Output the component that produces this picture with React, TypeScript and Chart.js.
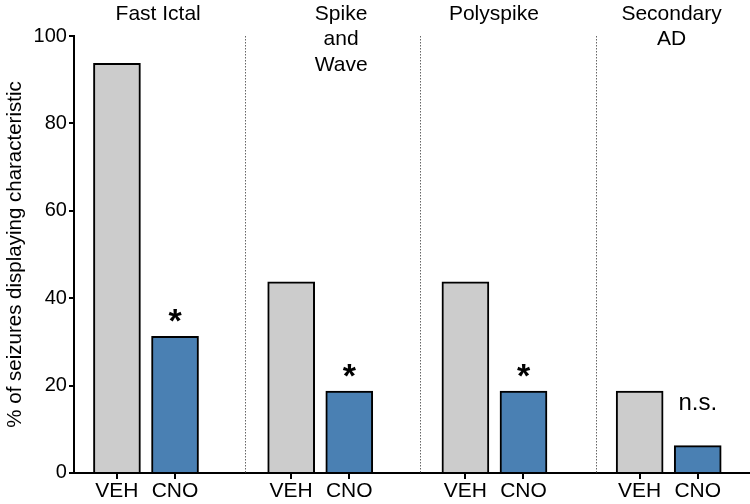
import React, { useEffect, useRef } from "react";
import { Chart, registerables } from "chart.js";

Chart.register(...registerables);

const groupTitles = [["Fast Ictal"], ["Spike", "and", "Wave"], ["Polyspike"], ["Secondary", "AD"]];
const conditions = ["VEH", "CNO"];
const vehValues = [93.75, 43.75, 43.75, 18.75];
const cnoValues = [31.25, 18.75, 18.75, 6.25];
const significance = ["*", "*", "*", "n.s."];
const yTicks = [0, 20, 40, 60, 80, 100];

const FONT = "'Liberation Sans', Arial, Helvetica, sans-serif";
// x positions of each group's VEH bar (slots; CNO is next slot)
const groupStart = [0, 3, 6, 9];
const titleOffsets = [0.71, 3.86, 6.49, 9.55];
const separators = [2.21, 5.22, 8.24];

const annotationPlugin = {
  id: "annotations",
  afterDraw(chart: any) {
    const { ctx, scales, chartArea } = chart;
    const xs = scales.x;
    const ys = scales.y;
    ctx.save();
    ctx.strokeStyle = "#666";
    ctx.lineWidth = 1;
    ctx.setLineDash([1.5, 1.5]);
    separators.forEach((s) => {
      const px = Math.round(xs.getPixelForValue(s)) + 0.5;
      ctx.beginPath();
      ctx.moveTo(px, chartArea.top);
      ctx.lineTo(px, ys.getPixelForValue(0));
      ctx.stroke();
    });
    ctx.setLineDash([]);
    ctx.fillStyle = "#000";
    ctx.font = `21px ${FONT}`;
    ctx.textAlign = "center";
    ctx.textBaseline = "alphabetic";
    groupTitles.forEach((lines, i) => {
      const px = xs.getPixelForValue(titleOffsets[i]);
      lines.forEach((line, j) => {
        ctx.fillText(line, px, 19.5 + j * 25.5);
      });
    });
    significance.forEach((s, i) => {
      const px = xs.getPixelForValue(groupStart[i] + 1);
      const top = ys.getPixelForValue(cnoValues[i]);
      if (s === "*") {
        ctx.font = `bold 34px ${FONT}`;
        ctx.fillText(s, px, top - 4);
      } else {
        ctx.font = `24px ${FONT}`;
        ctx.fillText(s, px, top - 36);
      }
    });
    ctx.restore();
  },
};

export default function App() {
  const ref = useRef<HTMLCanvasElement>(null);
  useEffect(() => {
    document.body.style.margin = "0";
    const tickPositions: number[] = [];
    const tickLabels: Record<string, string> = {};
    groupStart.forEach((g) => {
      conditions.forEach((c, k) => {
        tickPositions.push(g + k);
        tickLabels[String(g + k)] = c;
      });
    });
    const chart = new Chart(ref.current!, {
      type: "bar",
      data: {
        datasets: [
          {
            label: "VEH",
            data: vehValues.map((v, i) => ({ x: groupStart[i], y: v })),
            backgroundColor: "#cccccc",
            borderColor: "#000",
            borderWidth: 2,
            barThickness: 47,
            grouped: false,
          } as any,
          {
            label: "CNO",
            data: cnoValues.map((v, i) => ({ x: groupStart[i] + 1, y: v })),
            backgroundColor: "#4a80b3",
            borderColor: "#000",
            borderWidth: 2,
            barThickness: 47,
            grouped: false,
          } as any,
        ],
      },
      options: {
        animation: false,
        responsive: false,
        layout: { padding: { top: 36, right: 0, left: 3, bottom: 0 } },
        plugins: { legend: { display: false }, tooltip: { enabled: false } },
        scales: {
          x: {
            type: "linear",
            min: -0.74,
            max: 10.9,
            offset: false,
            afterBuildTicks: (axis: any) => {
              axis.ticks = tickPositions.map((v) => ({ value: v }));
            },
            ticks: {
              autoSkip: false,
              maxRotation: 0,
              color: "#000",
              font: { size: 21, family: FONT, lineHeight: 1.1 },
              padding: 1,
              callback: (v: any) => tickLabels[String(v)] ?? "",
            },
            grid: { offset: false, drawOnChartArea: false, drawTicks: true, tickLength: 6, color: "#000", lineWidth: 2 },
            border: { color: "#000", width: 2 },
          },
          y: {
            min: 0,
            max: 100,
            afterBuildTicks: (axis: any) => {
              axis.ticks = yTicks.map((v) => ({ value: v }));
            },
            ticks: { color: "#000", font: { size: 20, family: FONT }, padding: 2 },
            grid: { drawOnChartArea: false, drawTicks: true, tickLength: 5, color: "#000", lineWidth: 2 },
            border: { color: "#000", width: 2 },
            title: {
              display: true,
              text: "% of seizures displaying characteristic",
              color: "#000",
              font: { size: 20.5, family: FONT },
              padding: { top: 0, bottom: 4 },
            },
          },
        },
      },
      plugins: [annotationPlugin],
    } as any);
    return () => chart.destroy();
  }, []);
  return (
    <div style={{ width: 750, height: 504 }}>
      <canvas ref={ref} width={750} height={504} />
    </div>
  );
}
